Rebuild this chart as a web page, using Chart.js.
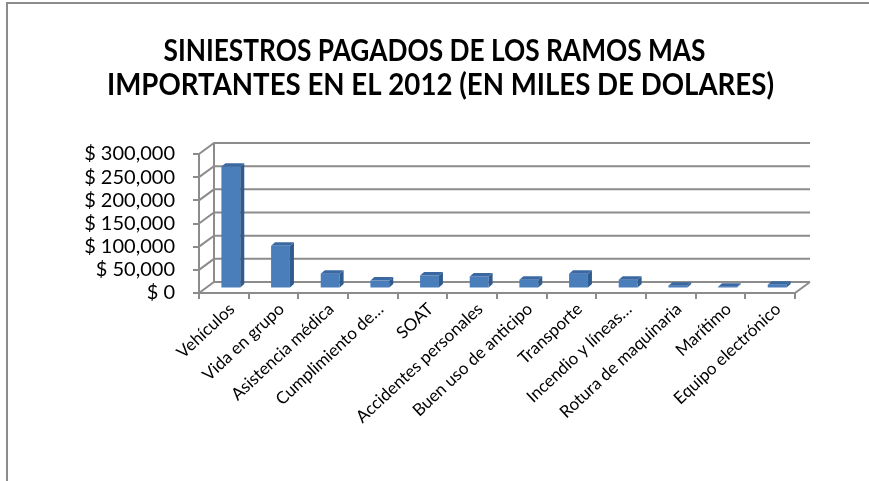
<!DOCTYPE html>
<html>
<head>
<meta charset="utf-8">
<script src="https://cdn.jsdelivr.net/npm/chart.js@4.4.0/dist/chart.umd.min.js"></script>
<style>
  html, body { margin: 0; padding: 0; background: #fff; }
  #wrap { position: relative; width: 869px; height: 481px; }
  #frame { position: absolute; left: 6px; top: 2px; right: 0; bottom: 0;
           border-left: 2px solid #8c8c8c; border-top: 2px solid #8c8c8c; }
  canvas { position: absolute; left: 0; top: 0; }
</style>
</head>
<body>
<div id="wrap">
  <div id="frame"></div>
  <canvas id="chart" width="869" height="481"></canvas>
</div>
<script>
// siniestros pagados 2012, miles de dólares
const ramos = [
  'Vehículos', 'Vida en grupo', 'Asistencia médica', 'Cumplimiento de…',
  'SOAT', 'Accidentes personales', 'Buen uso de anticipo', 'Transporte',
  'Incendio y líneas…', 'Rotura de maquinaria', 'Marítimo', 'Equipo electrónico'
];
const siniestros = [263000, 92000, 32000, 17000, 28000, 26000, 19000, 32000, 19000, 6000, 4000, 8000];
const yMax = 300000;
const yStep = 50000;

const titulo = [
  'SINIESTROS PAGADOS DE LOS RAMOS MAS',
  'IMPORTANTES EN EL 2012 (EN MILES DE DOLARES)'
];

const FONT = 'Lato, "Open Sans", sans-serif';
const GRID = '#8c8c8c';

// fake 3D: back wall offset and column depth
const depthX = 15, depthY = 11;
const shiftX = 7, shiftY = 4.5;
const colX = 4, colY = 3.5;

// title drawn by hand so each line can be squeezed to a narrower width
const tituloPlugin = {
  id: 'tituloPlugin',
  afterDraw(chart) {
    const { ctx } = chart;
    const anchos = [542, 667];
    ctx.save();
    ctx.fillStyle = '#000';
    ctx.font = 'bold 30px ' + FONT;
    ctx.textAlign = 'center';
    ctx.textBaseline = 'middle';
    titulo.forEach((linea, i) => {
      ctx.fillText(linea, chart.width / 2 + i * 6, 51 + i * 34, anchos[i]);
    });
    ctx.restore();
  }
};

const caja3d = {
  id: 'caja3d',
  beforeDatasetsDraw(chart) {
    const { ctx, chartArea: a, scales: { y } } = chart;
    ctx.save();
    ctx.strokeStyle = GRID;
    ctx.lineWidth = 2;
    ctx.beginPath();
    y.ticks.forEach(t => {
      const py = y.getPixelForValue(t.value);
      ctx.moveTo(a.left, py);
      ctx.lineTo(a.left + depthX, py - depthY);
      ctx.lineTo(a.right + depthX, py - depthY);
    });
    ctx.moveTo(a.left + depthX, a.top - depthY);
    ctx.lineTo(a.left + depthX, a.bottom - depthY);
    ctx.moveTo(a.right, a.bottom);
    ctx.lineTo(a.right + depthX, a.bottom - depthY);
    ctx.stroke();
    ctx.restore();

    // columns stand in the middle of the floor
    ctx.save();
    ctx.translate(shiftX, -shiftY);
  },
  afterDatasetsDraw(chart) {
    const { ctx } = chart;
    chart.getDatasetMeta(0).data.forEach(bar => {
      const l = bar.x - bar.width / 2, r = bar.x + bar.width / 2;
      const top = bar.y, base = bar.base;
      ctx.fillStyle = '#2f5b8f';
      ctx.beginPath();
      ctx.moveTo(r, top);
      ctx.lineTo(r + colX, top - colY);
      ctx.lineTo(r + colX, base - colY);
      ctx.lineTo(r, base);
      ctx.closePath();
      ctx.fill();
      ctx.fillStyle = '#3a68a3';
      ctx.beginPath();
      ctx.moveTo(l, top);
      ctx.lineTo(r, top);
      ctx.lineTo(r + colX, top - colY);
      ctx.lineTo(l + colX, top - colY);
      ctx.closePath();
      ctx.fill();
    });
    ctx.restore();
  }
};

new Chart(document.getElementById('chart'), {
  type: 'bar',
  data: {
    labels: ramos,
    datasets: [{
      data: siniestros,
      backgroundColor: '#4a7ebb',
      barPercentage: 0.38,
      categoryPercentage: 1,
      clip: false
    }]
  },
  options: {
    responsive: false,
    animation: false,
    layout: { padding: { left: 0, right: 74, top: 154, bottom: 0 } },
    plugins: {
      legend: { display: false },
      tooltip: { enabled: false },
      title: { display: false }
    },
    scales: {
      x: {
        grid: { offset: true, drawOnChartArea: false, tickLength: 6, color: GRID, lineWidth: 2 },
        border: { display: true, color: GRID, width: 2 },
        ticks: {
          autoSkip: false, maxRotation: 43, minRotation: 43,
          labelOffset: 8, padding: 0,
          color: '#000', font: { family: FONT, size: 17 }
        },
        afterFit(scale) { scale.height = 188; }
      },
      y: {
        min: 0, max: yMax,
        grid: { drawOnChartArea: false, tickLength: 6, color: GRID, lineWidth: 2 },
        border: { display: true, color: GRID, width: 2 },
        ticks: {
          stepSize: yStep, padding: 18, autoSkip: false,
          color: '#000', font: { family: FONT, size: 20 },
          callback: v => '$ ' + v.toLocaleString('en-US')
        },
        afterFit(scale) { scale.width = 199; }
      }
    }
  },
  plugins: [caja3d, tituloPlugin]
});
</script>
</body>
</html>
